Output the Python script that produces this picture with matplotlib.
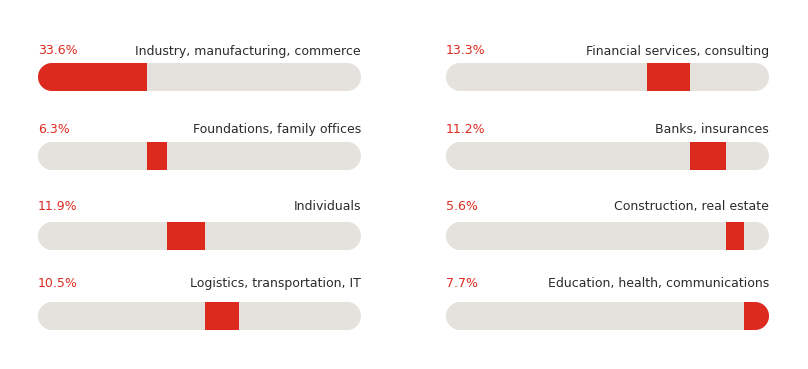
import numpy as np
import matplotlib.pyplot as plt
from matplotlib.patches import Polygon

# sectors, in the order they are stacked along the bars
left_labels = ["Industry, manufacturing, commerce", "Foundations, family offices",
               "Individuals", "Logistics, transportation, IT"]
left_values = [33.6, 6.3, 11.9, 10.5]
right_labels = ["Financial services, consulting", "Banks, insurances",
                "Construction, real estate", "Education, health, communications"]
right_values = [13.3, 11.2, 5.6, 7.7]

RED = "#dc2a1f"
GREY = "#e5e2dd"
TEXT = "#2b2b2b"

W, H = 808, 369
fig = plt.figure(figsize=(W / 100, H / 100), dpi=100)
fig.patch.set_facecolor("white")

# layout in pixels from the top
track_y = [77, 156, 236, 316]
label_y = [51, 129, 206, 283]
bar_h = 28
track_px = 323
s = track_px / 100.0  # pixels per percent


def stadium(x0, x1, yc, r):
    # pill shape with true half-circle ends
    t = np.linspace(-np.pi / 2, np.pi / 2, 40)
    right = np.column_stack([x1 - r + r * np.cos(t), yc + r * np.sin(t)])
    left = np.column_stack([x0 + r - r * np.cos(t), yc - r * np.sin(t)])
    return np.vstack([right, left])


def draw_column(x0, labels, values, start):
    ax = fig.add_axes([x0 / W, 0, track_px / W, 1])
    ax.set_xlim(0, 100)
    ax.set_ylim(H / s, 0)  # same scale on both axes, so round ends are circles
    ax.axis("off")
    h = bar_h / s
    left = start
    for lab, val, yc, ly in zip(labels, values, track_y, label_y):
        yc, ly = yc / s, ly / s
        clip = Polygon(stadium(0, 100, yc, h / 2), closed=True,
                       facecolor=GREY, edgecolor="none")
        ax.add_patch(clip)
        bars = ax.barh([yc], [val], left=[left], height=h, color=RED)
        for b in bars:
            b.set_clip_path(clip)
        ax.text(0, ly, f"{val}%", color=RED, fontsize=9, va="center", ha="left")
        ax.text(100, ly, lab, color=TEXT, fontsize=9, va="center", ha="right")
        left += val
    return left


end = draw_column(38, left_labels, left_values, 0)
draw_column(446, right_labels, right_values, end)

fig.savefig("out.png", dpi=100)
